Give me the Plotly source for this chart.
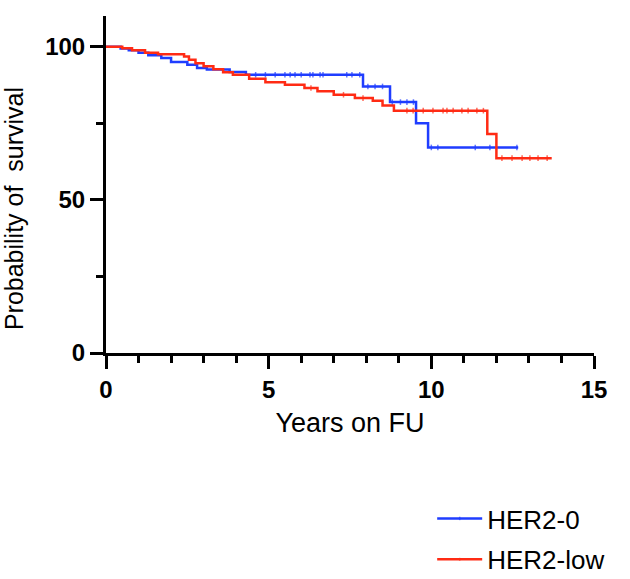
import numpy as np
import plotly.graph_objects as go

# HER2-0 (blue): step-change times and survival (%)
her2_0_t = [0, 0.45, 0.7, 1.0, 1.3, 1.7, 2.0, 2.5, 2.8, 3.1, 3.8, 4.3, 7.9, 8.73, 9.53, 9.9, 12.67]
her2_0_s = [100, 99.4, 98.8, 98.0, 97.2, 96.3, 95.0, 94.1, 93.0, 92.5, 91.7, 90.8, 87.0, 81.9, 75.0, 67.1, 67.1]
her2_0_cens = [4.6, 4.9, 5.2, 5.5, 5.66, 5.81, 6.0, 6.27, 6.36, 6.58, 6.67, 7.4, 7.56, 7.8,
               8.05, 8.27, 8.5, 8.8, 9.05, 9.25, 9.45, 10.0, 10.2, 11.35, 11.8, 12.63]

# HER2-low (red)
her2_low_t = [0, 0.5, 0.8, 1.2, 1.6, 2.4, 2.55, 2.75, 3.0, 3.3, 3.6, 3.9, 4.4, 4.9, 5.5, 6.1, 6.5,
              7.0, 7.65, 8.2, 8.5, 8.85, 11.72, 12.0, 13.7]
her2_low_s = [100, 99.5, 98.8, 98.0, 97.5, 96.8, 95.7, 94.6, 93.6, 92.6, 91.6, 90.8, 89.5, 88.4,
              87.6, 86.5, 85.4, 84.3, 83.2, 82.3, 80.8, 79.1, 71.5, 63.6, 63.6]
her2_low_cens = [6.3, 7.3, 7.9, 9.25, 9.44, 9.75, 10.05, 10.36, 10.48, 10.67, 10.94, 11.13, 11.4, 11.6,
                 12.17, 12.48, 12.79, 13.03, 13.28, 13.56]

series = [("HER2-0", her2_0_t, her2_0_s, her2_0_cens, "#1f3dff"),
          ("HER2-low", her2_low_t, her2_low_s, her2_low_cens, "#ff2b14")]

fig = go.Figure()
for name, t, s, cens, color in series:
    t = np.array(t, float)
    s = np.array(s, float)
    c = np.array(cens, float)
    cs = s[np.searchsorted(t, c, side="right") - 1]
    x = np.concatenate([t, c])
    y = np.concatenate([s, cs])
    sz = np.concatenate([np.zeros(len(t)), np.full(len(c), 4)])
    order = np.argsort(x, kind="stable")
    fig.add_trace(go.Scatter(
        x=x[order], y=y[order], name=name, legendgroup=name,
        mode="lines+markers", line=dict(color=color, width=2.5, shape="hv"),
        marker=dict(symbol="line-ns", size=sz[order], color=color,
                    line=dict(color=color, width=1.5)),
    ))

fig.update_layout(
    width=630, height=579,
    margin=dict(l=106, r=36, t=16, b=226, autoexpand=False),
    paper_bgcolor="white", plot_bgcolor="white",
    font=dict(family="Liberation Sans, Arial, sans-serif", color="black"),
    showlegend=True,
    legend=dict(xref="container", yref="container", x=0.686, y=0.145,
                xanchor="left", yanchor="top", itemwidth=45,
                font=dict(size=26), tracegroupgap=4, bgcolor="rgba(0,0,0,0)"),
    xaxis=dict(range=[0, 15], tickvals=[0, 5, 10, 15], ticks="outside", ticklen=13,
               tickwidth=3, tickcolor="black", showline=True, linewidth=3, linecolor="black",
               showgrid=False, zeroline=False, automargin=False,
               tickfont=dict(size=24, weight="bold"),
               minor=dict(dtick=1, tick0=0, ticks="outside", ticklen=7, tickwidth=2.5,
                          tickcolor="black", showgrid=False),
               title=dict(text="Years on FU", font=dict(size=27), standoff=12)),
    yaxis=dict(range=[0, 110], tickvals=[0, 50, 100], ticks="outside", ticklen=13,
               tickwidth=3, tickcolor="black", showline=True, linewidth=3, linecolor="black",
               showgrid=False, zeroline=False, automargin=False,
               tickfont=dict(size=24, weight="bold"),
               minor=dict(tickvals=[25, 75], ticks="outside", ticklen=7, tickwidth=2.5,
                          tickcolor="black", showgrid=False)),
    annotations=[dict(text="Probability of  survival", xref="paper", yref="paper",
                      x=-0.1885, y=0.427, xanchor="center", yanchor="middle",
                      textangle=-90, showarrow=False, font=dict(size=25))],
)

fig.write_html("out.html", config={"displayModeBar": False},
               post_script="document.body.style.margin='0';")
